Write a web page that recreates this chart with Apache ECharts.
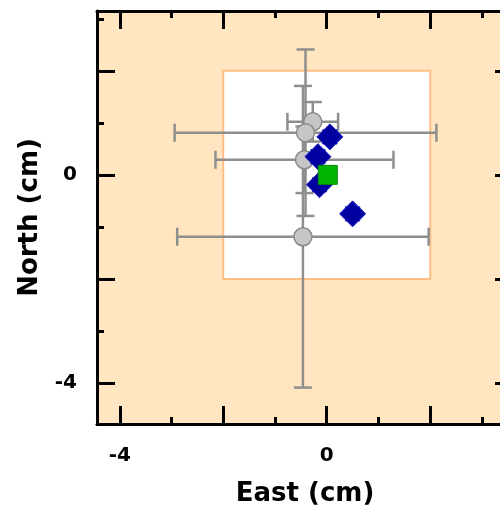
<!DOCTYPE html>
<html>
<head>
<meta charset="utf-8">
<script src="https://cdn.jsdelivr.net/npm/echarts@6/dist/echarts.min.js"></script>
<style>
html, body { margin: 0; padding: 0; background: #fff; }
#main { width: 500px; height: 508px; }
</style>
</head>
<body>
<div id="main"></div>
<script>
// East / North offsets (cm)
var eastRange = [-4.44, 3.6];
var northRange = [-4.79, 3.15];
var majorTicks = [-4, -2, 0, 2];
var minorTicks = [-3, -1, 1, 3];
var tickLabels = [-4, 0];
var innerBox = [-2, 2, -2, 2]; // east min, east max, north min, north max

var grayEast = [-0.27, -0.41, -0.43, -0.46];
var grayNorth = [1.02, 0.81, 0.29, -1.19];
var grayEastErr = [0.49, 2.53, 1.72, 2.43];
var grayNorthErr = [0.38, 1.6, 0.64, 2.9];

var blueEast = [0.06, -0.17, -0.14, 0.5];
var blueNorth = [0.73, 0.35, -0.19, -0.75];

var greenEast = [0.02];
var greenNorth = [0];

var dom = document.getElementById('main');
var myChart = echarts.init(dom, null, { renderer: 'canvas' });

var labelFont = { fontFamily: 'DejaVu Sans', fontWeight: 'bold', fontSize: 20, color: '#000' };
var nameFont = { fontFamily: 'DejaVu Sans', fontWeight: 'bold', fontSize: 26, color: '#000' };

function frameAxis(pos, range, gridIndex, ticks, len, withLine) {
    return {
        type: 'value',
        gridIndex: gridIndex,
        position: pos,
        min: range[0],
        max: range[1],
        axisLine: { show: withLine, onZero: false, lineStyle: { color: '#000', width: 3 } },
        axisTick: { show: true, inside: true, length: len, customValues: ticks, lineStyle: { color: '#000', width: 3 } },
        axisLabel: { show: false },
        splitLine: { show: false }
    };
}

var xBottom = frameAxis('bottom', eastRange, 0, majorTicks, 18, true);
xBottom.axisLabel = Object.assign({ show: true, customValues: tickLabels, margin: 22 }, labelFont);
xBottom.name = 'East (cm)';
xBottom.nameLocation = 'middle';
xBottom.nameGap = 57;
xBottom.nameTextStyle = nameFont;

var yLeft = frameAxis('left', northRange, 0, majorTicks, 18, true);
yLeft.axisLabel = Object.assign({ show: true, customValues: tickLabels, margin: 20 }, labelFont);
yLeft.name = 'North (cm)';
yLeft.nameLocation = 'middle';
yLeft.nameGap = 54;
yLeft.nameTextStyle = nameFont;

// the frame runs past the right edge of the picture, so no squeezing into the canvas
var option = {
    animation: false,
    backgroundColor: '#fff',
    grid: [
        { left: 97, top: 11, width: 416, height: 413, outerBoundsMode: 'none', containLabel: false,
          show: true, backgroundColor: '#FFE6C0', borderWidth: 0 },
        { left: 97, top: 11, width: 416, height: 413, outerBoundsMode: 'none', containLabel: false }
    ],
    xAxis: [
        xBottom,
        frameAxis('top', eastRange, 0, majorTicks, 18, true),
        frameAxis('bottom', eastRange, 1, minorTicks, 7, false),
        frameAxis('top', eastRange, 1, minorTicks, 7, false)
    ],
    yAxis: [
        yLeft,
        frameAxis('right', northRange, 0, majorTicks, 18, true),
        frameAxis('left', northRange, 1, minorTicks, 7, false),
        frameAxis('right', northRange, 1, minorTicks, 7, false)
    ],
    series: [
        {
            type: 'custom',
            xAxisIndex: 0,
            yAxisIndex: 0,
            z: 1,
            data: [innerBox],
            renderItem: function (params, api) {
                var p1 = api.coord([api.value(0), api.value(3)]);
                var p2 = api.coord([api.value(1), api.value(2)]);
                return {
                    type: 'rect',
                    shape: { x: p1[0], y: p1[1], width: p2[0] - p1[0], height: p2[1] - p1[1] },
                    style: { fill: '#fff', stroke: '#FFBE84', lineWidth: 2 }
                };
            }
        },
        {
            type: 'custom',
            xAxisIndex: 0,
            yAxisIndex: 0,
            z: 2,
            data: grayEast.map(function (e, i) { return [e, grayNorth[i], grayEastErr[i], grayNorthErr[i]]; }),
            encode: { x: 0, y: 1 },
            renderItem: function (params, api) {
                var x = api.value(0), y = api.value(1), ex = api.value(2), ey = api.value(3);
                var l = api.coord([x - ex, y]), r = api.coord([x + ex, y]);
                var t = api.coord([x, y + ey]), b = api.coord([x, y - ey]);
                var cap = 9;
                var st = { stroke: '#8E8E8E', lineWidth: 2.5 };
                return {
                    type: 'group',
                    children: [
                        { type: 'line', shape: { x1: l[0], y1: l[1], x2: r[0], y2: r[1] }, style: st },
                        { type: 'line', shape: { x1: l[0], y1: l[1] - cap, x2: l[0], y2: l[1] + cap }, style: st },
                        { type: 'line', shape: { x1: r[0], y1: r[1] - cap, x2: r[0], y2: r[1] + cap }, style: st },
                        { type: 'line', shape: { x1: t[0], y1: t[1], x2: b[0], y2: b[1] }, style: st },
                        { type: 'line', shape: { x1: t[0] - cap, y1: t[1], x2: t[0] + cap, y2: t[1] }, style: st },
                        { type: 'line', shape: { x1: b[0] - cap, y1: b[1], x2: b[0] + cap, y2: b[1] }, style: st }
                    ]
                };
            }
        },
        {
            type: 'scatter',
            z: 3,
            symbol: 'circle',
            symbolSize: 18,
            itemStyle: { color: '#C6C6C6', borderColor: '#8A8A8A', borderWidth: 1.5, opacity: 1 },
            data: grayEast.map(function (e, i) { return [e, grayNorth[i]]; })
        },
        {
            type: 'scatter',
            z: 4,
            symbol: 'path://M0,-1L0.45,-0.55L0.55,-0.55L0.55,-0.45L1,0L0.55,0.45L0.55,0.55L0.45,0.55L0,1L-0.45,0.55L-0.55,0.55L-0.55,0.45L-1,0L-0.55,-0.45L-0.55,-0.55L-0.45,-0.55Z',
            symbolSize: 26,
            itemStyle: { color: '#0000A0', borderColor: '#1A1AC8', borderWidth: 1, opacity: 1 },
            data: blueEast.map(function (e, i) { return [e, blueNorth[i]]; })
        },
        {
            type: 'scatter',
            z: 5,
            symbol: 'rect',
            symbolSize: 19,
            itemStyle: { color: '#00B400', borderColor: '#008C00', borderWidth: 1, opacity: 1 },
            data: greenEast.map(function (e, i) { return [e, greenNorth[i]]; })
        }
    ]
};

if (option && typeof option === 'object') {
    myChart.setOption(option);
}
</script>
</body>
</html>
